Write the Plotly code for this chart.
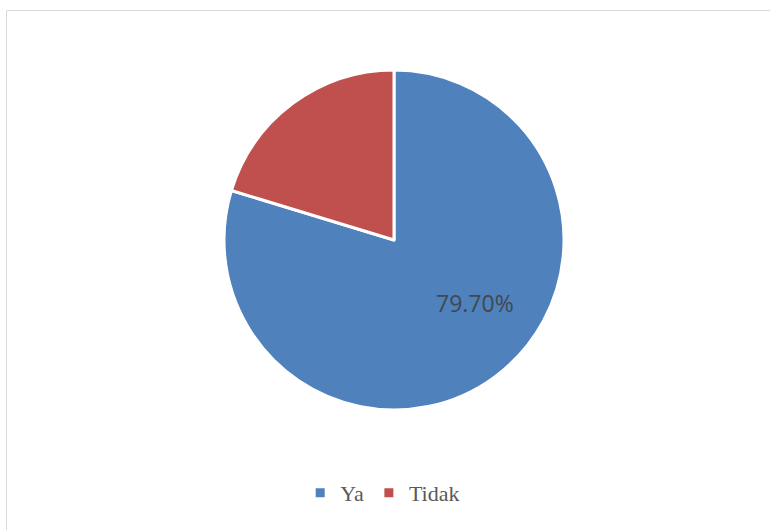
import plotly.graph_objects as go

labels = ["Ya", "Tidak"]
values = [79.70, 20.30]
colors = ["#4f81bd", "#c0504d"]

W, H = 770, 530
cx, cy, r = 394, 240, 170

fig = go.Figure()
fig.add_trace(go.Pie(
    labels=labels,
    values=values,
    sort=False,
    direction="clockwise",
    rotation=0,
    marker=dict(colors=colors, line=dict(color="white", width=3)),
    textinfo="none",
    domain=dict(x=[(cx - r) / W, (cx + r) / W], y=[1 - (cy + r) / H, 1 - (cy - r) / H]),
    hoverinfo="label+percent",
))

# data label for "Ya" slice (only one shown in the reference)
fig.add_annotation(
    text=f"{values[0]:.2f}%",
    xref="paper", yref="paper",
    x=475 / W, y=1 - 303 / H,
    xanchor="center", yanchor="middle",
    showarrow=False,
    font=dict(family="Open Sans, DejaVu Sans, sans-serif", size=23, color="#404850"),
)

fig.update_layout(
    width=W, height=H,
    margin=dict(l=0, r=0, t=0, b=0),
    paper_bgcolor="white",
    plot_bgcolor="white",
    showlegend=True,
    legend=dict(
        orientation="h",
        x=0.497, xanchor="center",
        y=1 - 493 / H, yanchor="middle",
        font=dict(family="Liberation Serif, DejaVu Serif, serif", size=22, color="#595959"),
        itemwidth=30,
        bgcolor="rgba(0,0,0,0)",
    ),
    shapes=[dict(
        type="rect", xref="paper", yref="paper",
        x0=6.5 / W, x1=1.05, y0=-0.05, y1=1 - 10.5 / H,
        line=dict(color="#d9d9d9", width=1),
    )],
)

fig.write_html("out.html", config={"displayModeBar": False},
               post_script="document.body.style.margin='0px';")
